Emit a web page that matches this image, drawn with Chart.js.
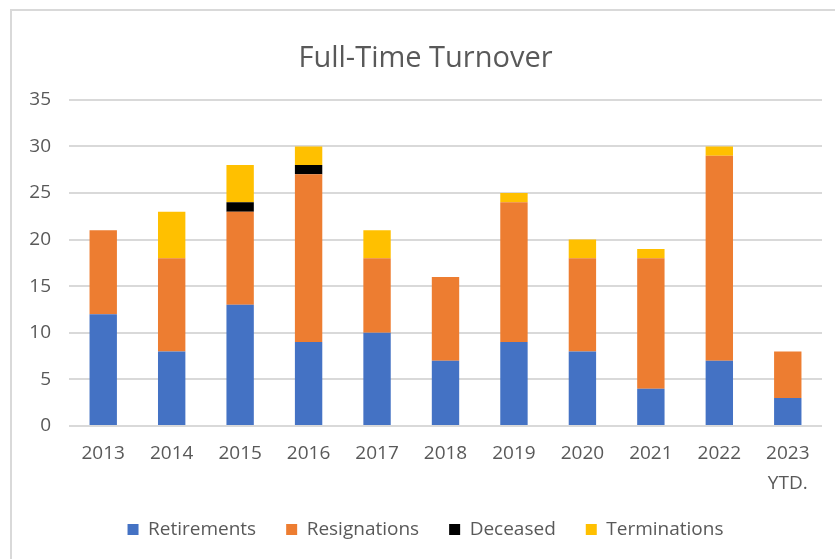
<!DOCTYPE html>
<html>
<head>
<meta charset="utf-8">
<script src="https://cdn.jsdelivr.net/npm/chart.js@4"></script>
<style>
  body { margin: 0; background: #fff; overflow: hidden; }
  #wrap { position: relative; width: 835px; height: 559px; }
  #frame { position: absolute; left: 10px; top: 9px; width: 840px; height: 560px; border: 2px solid #d9d9d9; pointer-events: none; }
</style>
</head>
<body>
<div id="wrap">
  <canvas id="chart" width="835" height="559"></canvas>
  <div id="frame"></div>
</div>
<script>
// data
const years = ["2013", "2014", "2015", "2016", "2017", "2018", "2019", "2020", "2021", "2022", ["2023", "YTD."]];
const retirements  = [12, 8, 13, 9, 10, 7, 9, 8, 4, 7, 3];
const resignations = [9, 10, 10, 18, 8, 9, 15, 10, 14, 22, 5];
const deceased     = [0, 0, 1, 1, 0, 0, 0, 0, 0, 0, 0];
const terminations = [0, 5, 4, 2, 3, 0, 1, 2, 1, 1, 0];

const grey = "#595959";
const fontFamily = "'Open Sans', sans-serif";

new Chart(document.getElementById("chart").getContext("2d"), {
  type: "bar",
  data: {
    labels: years,
    datasets: [
      { label: "Retirements", data: retirements, backgroundColor: "#4472C4" },
      { label: "Resignations", data: resignations, backgroundColor: "#ED7D31" },
      { label: "Deceased", data: deceased, backgroundColor: "#000000" },
      { label: "Terminations", data: terminations, backgroundColor: "#FFC000" }
    ]
  },
  options: {
    responsive: false,
    animation: false,
    layout: { padding: { top: 41, left: 29, right: 13, bottom: 10 } },
    datasets: { bar: { barPercentage: 0.4, categoryPercentage: 1 } },
    plugins: {
      title: {
        display: true,
        text: "Full-Time Turnover",
        color: grey,
        font: { family: fontFamily, size: 29, weight: "normal" },
        padding: { top: 0, bottom: 24 }
      },
      legend: {
        position: "bottom",
        labels: {
          color: grey,
          font: { family: fontFamily, size: 19 },
          boxWidth: 11,
          boxHeight: 11,
          padding: 30
        }
      },
      tooltip: { enabled: false }
    },
    scales: {
      x: {
        stacked: true,
        afterFit: (scale) => {
          // keep the legend close; let the second label line spill past the box
          scale.height = 64;
          scale._computeLabelArea = () => null;
        },
        grid: { display: false },
        border: { display: false },
        ticks: { color: grey, font: { family: fontFamily, size: 19, lineHeight: 1.6 }, padding: 4, maxRotation: 0 }
      },
      y: {
        stacked: true,
        min: 0,
        max: 35,
        afterFit: (scale) => { scale.width = 40; },
        grid: { color: "#d9d9d9", lineWidth: 2, drawTicks: false },
        border: { display: false },
        ticks: { stepSize: 5, color: grey, font: { family: fontFamily, size: 19 }, padding: 18 }
      }
    }
  }
});
</script>
</body>
</html>
